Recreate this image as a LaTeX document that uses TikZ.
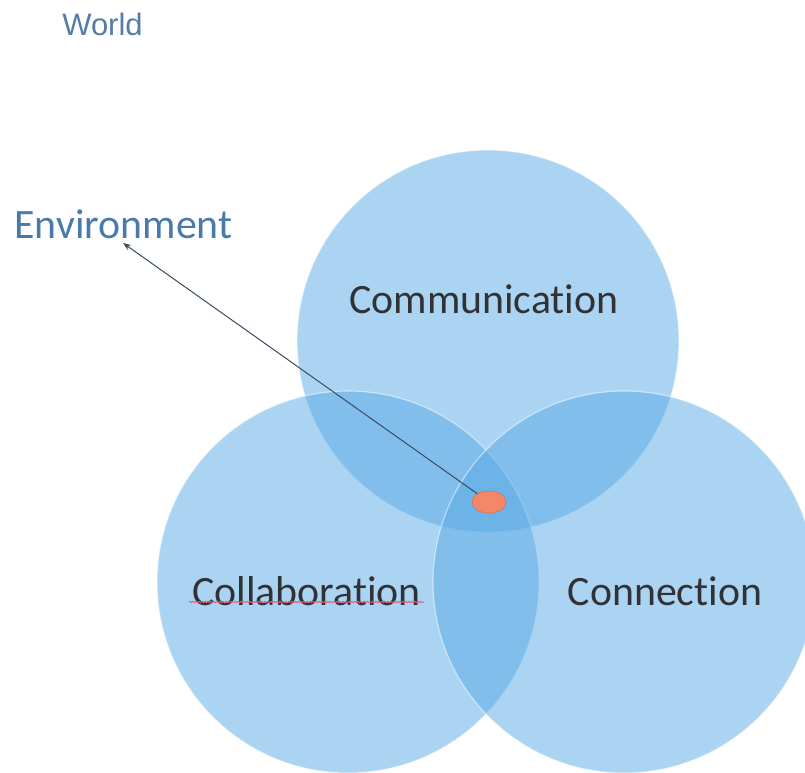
\documentclass[tikz,border=0pt]{standalone}
\usepackage{fontspec}
\setmainfont{Carlito}[Ligatures={NoCommon}]
\newfontfamily\worldfont{Liberation Sans}
\usetikzlibrary{arrows.meta,shapes.geometric,decorations.pathmorphing}
\definecolor{cblue}{RGB}{88,170,230}
\definecolor{labelgray}{RGB}{48,50,54}
\definecolor{envblue}{RGB}{72,122,170}
\definecolor{worldblue}{RGB}{88,124,168}
\definecolor{dotfill}{RGB}{244,134,106}
\definecolor{linecol}{RGB}{58,76,98}
\definecolor{squiggle}{RGB}{228,90,130}
\begin{document}
\begin{tikzpicture}[x=1pt,y=-1pt,
  venn/.style={circle, minimum size=382pt, inner sep=0pt, fill=cblue, fill opacity=0.5, draw=white, draw opacity=0.5, line width=1.2pt},
  lbl/.style={inner sep=0pt, anchor=base, text=labelgray, font=\fontsize{41.8}{50}\selectfont},
  envlbl/.style={inner sep=0pt, anchor=base, text=envblue, font=\fontsize{41.8}{50}\selectfont},
  worldlbl/.style={inner sep=0pt, anchor=base, text=worldblue, font=\worldfont\fontsize{31}{37}\selectfont},
  dotnode/.style={ellipse, minimum width=34pt, minimum height=22pt, inner sep=0pt, fill=dotfill, draw=dotfill!85!black, line width=0.4pt},
  pointer/.style={draw=linecol, line width=1pt, -{Stealth[length=8pt,width=6pt]}},
  spell/.style={draw=squiggle, line width=0.8pt, decorate, decoration={snake, segment length=3pt, amplitude=0.7pt}}
]
\useasboundingbox (0,0) rectangle (805,772);
\fill[white] (0,0) rectangle (805,772);

% circles
\node[venn] (ctop) at (488,341) {};
\node[venn] (cleft) at (348,582) {};
\node[venn] (cright) at (624,582) {};

% labels
\node[worldlbl] (world) at (102.5,35) {World};
\node[envlbl] (env) at (123.5,238) {Environment};
\node[lbl] (comm) at (484,313) {Communication};
\node[lbl] (collab) at (306.5,605) {Collaboration};
\node[lbl] (conn) at (665,605) {Connection};

% spell-check underline
\draw[spell] ([xshift=-3pt,yshift=3pt]collab.base west) -- ([xshift=3pt,yshift=3pt]collab.base east);

% centre marker and pointer
\node[dotnode] (dot) at (489,502) {};
\coordinate (envtip) at (123,243);
\draw[pointer] (dot) -- (envtip);
\node[dotnode] at (dot) {};
\end{tikzpicture}
\end{document}
